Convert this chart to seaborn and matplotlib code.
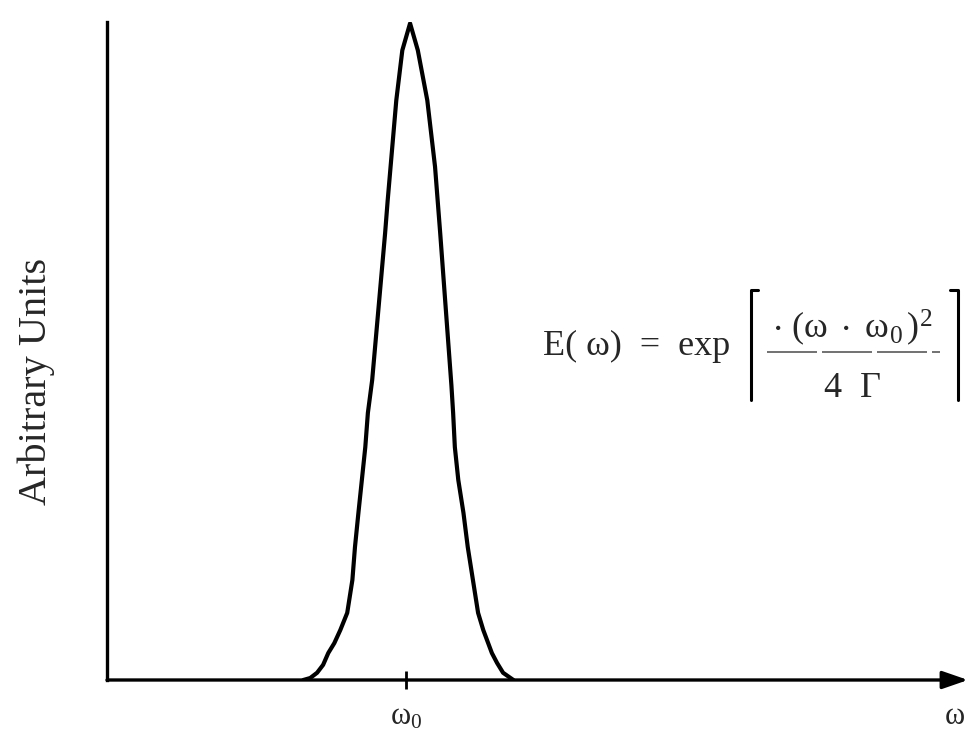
import matplotlib
matplotlib.use("Agg")
import matplotlib.pyplot as plt
from matplotlib.lines import Line2D
import seaborn as sns
import pandas as pd

# pulse spectrum (arbitrary units)
omega = [22.8, 23.6, 24.4, 25.1, 25.7, 26.4, 27.1, 27.9, 28.5, 28.8, 29.2, 29.6, 30.0, 30.3,
         30.8, 32.3, 32.6, 33.6, 34.3, 35.2,
         36.1, 37.2, 38.1, 38.7, 40.0, 40.2, 40.4, 40.8, 41.4, 41.9, 42.5, 43.1, 43.7, 44.7,
         45.3, 46.0, 47.2]
amplitude = [0.0, 0.003, 0.011, 0.023, 0.041, 0.056, 0.076, 0.102, 0.152, 0.202, 0.254, 0.304,
             0.354, 0.406, 0.456, 0.679, 0.729, 0.881, 0.957, 0.998,
             0.957, 0.881, 0.780, 0.679, 0.448, 0.406, 0.354, 0.304, 0.254, 0.202, 0.152,
             0.102, 0.076, 0.041, 0.026, 0.011, 0.0]
omega0 = 34.7
tick_labels = [r"$\mathregular{ω_0}$"]
y_label = "Arbitrary Units"
x_label = "ω"
formula_lhs = "E( ω)  =  exp"
formula_num = r"$\mathregular{\cdot\ (ω\ \cdot\ ω_0\,)^2}$"
formula_den = "4  Γ"

df = pd.DataFrame({"omega": omega, "amp": amplitude})

sns.set_theme(style="white")
plt.rcParams["font.family"] = ["Liberation Serif", "DejaVu Serif"]
plt.rcParams["mathtext.fontset"] = "stix"

W, H = 968, 742
fig = plt.figure(figsize=(W / 100, H / 100), dpi=100)
ax = fig.add_axes([107 / W, 62 / H, 1 - 107 / W, 658 / H])

sns.lineplot(data=df, x="omega", y="amp", color="black", linewidth=3, ax=ax, sort=False)

ax.set_xlim(0, 100)
ax.set_ylim(0, 1)

# only left spine, bottom drawn as arrow
for s in ["top", "right", "bottom"]:
    ax.spines[s].set_visible(False)
ax.spines["left"].set_linewidth(2.4)
ax.spines["left"].set_color("black")
ax.annotate("", xy=(1.0, 0), xytext=(0, 0), xycoords="axes fraction",
            arrowprops=dict(arrowstyle="-|>,head_length=1.3,head_width=0.45",
                            color="black", lw=2.4, shrinkA=0, shrinkB=0),
            annotation_clip=False)

ax.set_yticks([])
ax.set_xticks([omega0])
ax.set_xticklabels(tick_labels, fontsize=22)
ax.tick_params(axis="x", direction="inout", length=13, width=2, color="black", pad=10, bottom=True)

ax.set_ylabel(y_label, fontsize=29)
ax.yaxis.set_label_coords(-0.06, 0.453)
ax.set_xlabel("")
ax.text(0.985, -0.055, x_label, fontsize=22, ha="center", va="center", transform=ax.transAxes)

# formula, put together from pieces (figure pixel positions)
def fx(px):
    return px / W

def fy(py):
    return 1 - py / H

fig.text(fx(543), fy(355), formula_lhs, fontsize=26, ha="left", va="baseline")
fig.text(fx(852), fy(338), formula_num, fontsize=26, ha="center", va="baseline")
fig.text(fx(853), fy(397), formula_den, fontsize=26, ha="center", va="baseline")
fig.add_artist(Line2D([fx(767), fx(940)], [fy(352), fy(352)], color="0.35", lw=1.2,
                      linestyle=(0, (30, 3))))
# ceiling-style brackets
fig.add_artist(Line2D([fx(758), fx(751), fx(751)], [fy(290), fy(290), fy(400)],
                      color="black", lw=2.2))
fig.add_artist(Line2D([fx(950), fx(958), fx(958)], [fy(290), fy(290), fy(400)],
                      color="black", lw=2.2))

fig.savefig("out.png", dpi=100)
